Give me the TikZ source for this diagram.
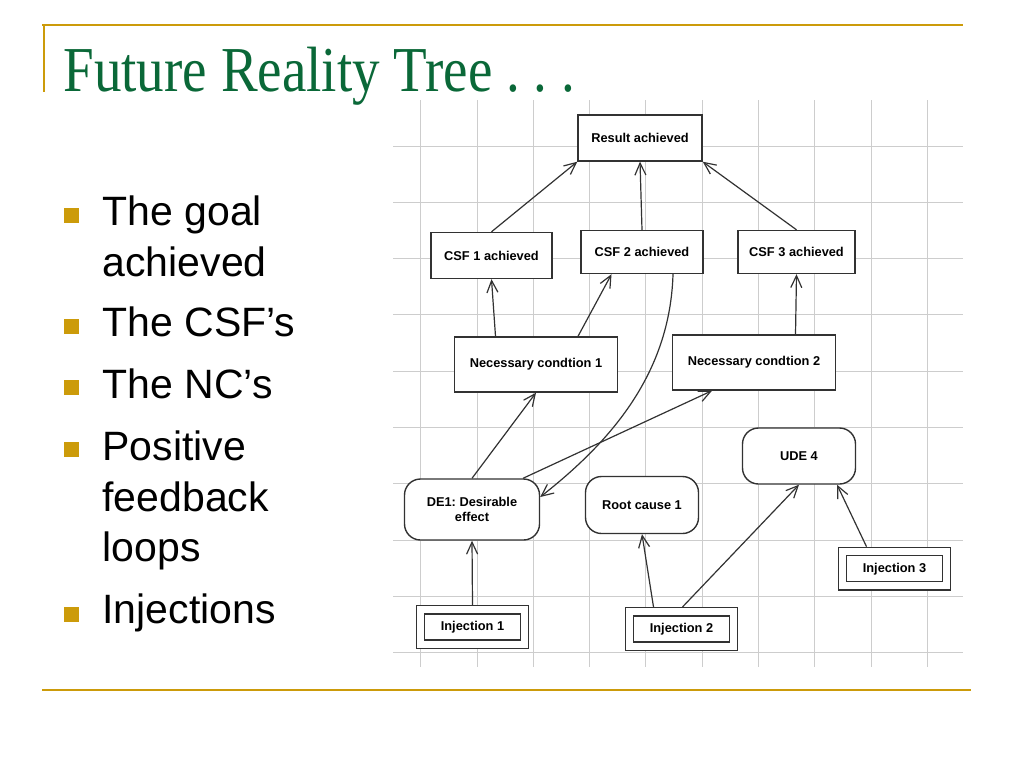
\documentclass[tikz,border=0pt]{standalone}
\usepackage{fontspec}
\setmainfont{Liberation Serif}
\setsansfont{Liberation Sans}
\usetikzlibrary{arrows.meta}
\definecolor{gold}{RGB}{204,155,10}
\definecolor{titlegreen}{RGB}{10,104,56}
\definecolor{gridgray}{RGB}{205,205,205}
\definecolor{boxline}{RGB}{50,50,50}
\frenchspacing

\begin{document}
\begin{tikzpicture}
 [x=1pt,y=-1pt,
  post/.style={->,>={Straight Barb[length=12pt,width=11pt]},line width=1.2pt,draw=boxline},
  gridline/.style={draw=gridgray,line width=1pt},
  rule/.style={draw=gold,line width=2pt},
  entity/.style={rectangle,draw=boxline,line width=1.4pt,fill=white,
                 font=\sffamily\bfseries\fontsize{12.8}{15}\selectfont,align=center},
  effect/.style={entity,rounded corners=16pt},
  injection/.style={entity,double=white,double distance=7pt,line width=1.3pt,
                    outer sep=4.8pt,minimum width=104,minimum height=34.5},
  bullet/.style={anchor=base west,font=\sffamily\fontsize{41}{48}\selectfont}]
 \fill[white] (0,0) rectangle (1024,768);
 \useasboundingbox (0,0) rectangle (1024,768);

 % slide frame
 \draw[rule] (42,25) -- (963,25);
 \draw[rule] (43.5,25) -- (43.5,92);
 \draw[rule] (42,690) -- (971,690);
 \node[anchor=base west,text=titlegreen,font=\fontsize{64}{70}\selectfont] (title) at (60,91)
   {\scalebox{0.86}[1]{Future Reality Tree . . .}};

 % bullet list
 \foreach \y in {208,319,380,442,607}
   \fill[gold] (64,\y) rectangle +(15,15);
 \node[bullet] (b1)  at (99,225)   {The goal};
 \node[bullet] (b1b) at (99,276.7) {achieved};
 \node[bullet] (b2)  at (99,336.7) {The CSF’s};
 \node[bullet] (b3)  at (99,398)   {The NC’s};
 \node[bullet] (b4)  at (99,460)   {Positive};
 \node[bullet] (b4b) at (99,511.7) {feedback};
 \node[bullet] (b4c) at (99,561.7) {loops};
 \node[bullet] (b5)  at (99,623)   {Injections};

 % grid
 \foreach \i in {0,...,9}
   \draw[gridline] ({420.7+56.3*\i},100) -- ({420.7+56.3*\i},667);
 \foreach \j in {0,...,9}
   \draw[gridline] (393,{146+56.3*\j}) -- (963,{146+56.3*\j});

 % tree
 \node[entity,minimum width=124,minimum height=46] (result) at (640,138)   {Result achieved};
 \node[entity,minimum width=121,minimum height=46] (csf1)   at (491.5,255.5) {CSF 1 achieved};
 \node[entity,minimum width=122,minimum height=43] (csf2)   at (642,252)   {CSF 2 achieved};
 \node[entity,minimum width=117,minimum height=43] (csf3)   at (796.5,252) {CSF 3 achieved};
 \node[entity,minimum width=163,minimum height=55] (nc1)    at (536,364.5) {Necessary condtion 1};
 \node[entity,minimum width=163,minimum height=55] (nc2)    at (754,362.5) {Necessary condtion 2};
 \node[effect,minimum width=135,minimum height=61] (de1)    at (472,509.5) {DE1: Desirable\\effect};
 \node[effect,minimum width=113,minimum height=57] (root)   at (642,505)   {Root cause 1};
 \node[effect,minimum width=113,minimum height=56] (ude4)   at (799,456)   {UDE 4};
 \node[injection] (inj1) at (472.5,627)   {Injection 1};
 \node[injection] (inj2) at (681.5,629)   {Injection 2};
 \node[injection] (inj3) at (894.5,568.7) {Injection 3};

 \path (csf1.north)               edge [post] (result.south west)
       (csf2.north)               edge [post] (result.south)
       (csf3.north)               edge [post] (result.south east)
       ([xshift=-40.5]nc1.north)  edge [post] (csf1.south)
       ([xshift=42]nc1.north)     edge [post] ([xshift=-30.5]csf2.south)
       ([xshift=41.5]nc2.north)   edge [post] (csf3.south)
       (de1.north)                edge [post] (nc1.south)
       ([xshift=51]de1.north)     edge [post] ([xshift=-42]nc2.south)
       (inj1.north)               edge [post] (de1.south)
       ([xshift=-28]inj2.north)   edge [post] (root.south)
       ([xshift=1]inj2.north)     edge [post] (ude4.south)
       ([xshift=-28]inj3.north)   edge [post] ([xshift=38]ude4.south);
 \draw[post] ([xshift=31]csf2.south) .. controls +(-3,100) and +(70,-55) .. ([yshift=12.5]de1.east);
\end{tikzpicture}
\end{document}
